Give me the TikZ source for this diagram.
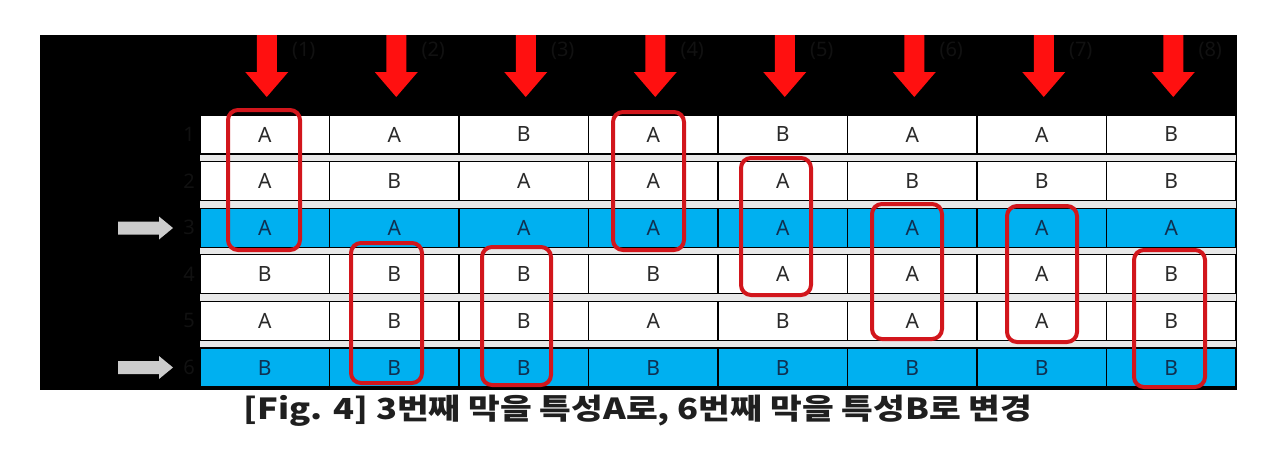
\documentclass[tikz,border=0pt]{standalone}
\usepackage{fontspec}
\setmainfont{Noto Sans}
\newfontfamily\krfont{Noto Sans CJK KR}
\definecolor{cellblue}{HTML}{00B0F0}
\definecolor{gapgray}{HTML}{E8E8E8}
\definecolor{boxred}{HTML}{D2161C}
\definecolor{arrowred}{HTML}{FF1010}
\definecolor{faint}{HTML}{111111}
\definecolor{txtdark}{HTML}{2A2A2A}
\definecolor{txtblue}{HTML}{103050}
\definecolor{graydark}{HTML}{CCCCCC}
\tikzset{
  cell/.style={draw=black, line width=1.3pt, fill=white, minimum width=129.5pt, minimum height=39pt,
    inner sep=0pt, font=\fontsize{21}{21}\selectfont, text=txtdark},
  bluecell/.style={cell, fill=cellblue, text=txtblue},
  hilite/.style={draw=boxred, line width=4pt, rounded corners=10pt},
  downarrow/.style={fill=arrowred},
  sidearrow/.style={fill=graydark},
  faintlabel/.style={text=faint, font=\fontsize{20}{20}\selectfont, inner sep=0pt},
  caption/.style={font=\krfont\bfseries\fontsize{29}{29}\selectfont, text=black!88, inner sep=0pt, xscale=1.19}
}
\begin{document}
\begin{tikzpicture}[x=1pt,y=-1pt]
\useasboundingbox (0,0) rectangle (1264,463);
\fill[black] (40,35) rectangle (1237,390);
\fill[gapgray] (200,115) rectangle (1236,388);
% cells
\foreach \r/\rowdata in {1/{A,A,B,A,B,A,A,B},2/{A,B,A,A,A,B,B,B},3/{A,A,A,A,A,A,A,A},4/{B,B,B,B,A,A,A,B},5/{A,B,B,A,B,A,A,B},6/{B,B,B,B,B,B,B,B}}{
  \pgfmathsetmacro\yc{134.5+(\r-1)*46.6}
  \foreach \v [count=\c] in \rowdata {
    \pgfmathsetmacro\xc{200+(\c-0.5)*129.5}
    \ifnum\r=3 \node[bluecell] (c-\r-\c) at (\xc,\yc) {\v};
    \else\ifnum\r=6 \node[bluecell] (c-\r-\c) at (\xc,\yc) {\v};
    \else \node[cell] (c-\r-\c) at (\xc,\yc) {\v};
    \fi\fi
  }
  \node[faintlabel] (rn-\r) at (189,\yc) {\r};
}
% red down arrows and faint labels
\foreach \c in {1,...,8}{
  \pgfmathsetmacro\ax{200+(\c-0.5)*129.5+2}
  \fill[downarrow] (\ax-10,35) -- (\ax+10,35) -- (\ax+10,72) -- (\ax+21.5,72) -- (\ax,97) -- (\ax-21.5,72) -- (\ax-10,72) -- cycle;
  \node[faintlabel] (lab-\c) at (\ax+37,51) {(\c)};
}
% grey side arrows
\foreach \yy/\nm in {228/a3,367.5/a6}{
  \coordinate (\nm) at (173,\yy);
  \fill[sidearrow] (118,\yy-6.5) -- (159,\yy-6.5) -- (159,\yy-11.5) -- (173,\yy) -- (159,\yy+11.5) -- (159,\yy+6.5) -- (118,\yy+6.5) -- cycle;
}
% red highlight boxes
\draw[hilite] (228,110) rectangle (300,250);
\draw[hilite] (351,243) rectangle (422,383);
\draw[hilite] (482,247) rectangle (551,385);
\draw[hilite] (613,112) rectangle (684,250);
\draw[hilite] (741,158) rectangle (811,295);
\draw[hilite] (872,204) rectangle (942,339);
\draw[hilite] (1007,206) rectangle (1077,342);
\draw[hilite] (1134,250) rectangle (1205,387);
% caption
\node[caption] (cap) at (638,411) {[Fig. 4] 3번째 막을 특성A로, 6번째 막을 특성B로 변경};
\end{tikzpicture}
\end{document}
